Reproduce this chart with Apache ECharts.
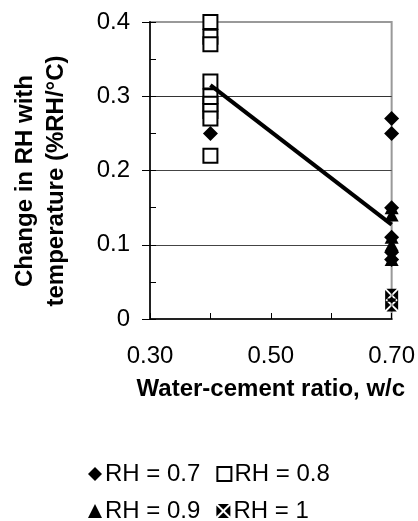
<!DOCTYPE html>
<html>
<head>
<meta charset="utf-8">
<script src="https://cdn.jsdelivr.net/npm/echarts@6/dist/echarts.min.js"></script>
<style>
html,body{margin:0;padding:0;background:#fff;}
#chart{width:418px;height:521px;}
</style>
</head>
<body>
<div id="chart"></div>
<script>
// Data
const rh07 = [[0.40, 0.25], [0.70, 0.27], [0.70, 0.25], [0.70, 0.15], [0.70, 0.11], [0.70, 0.09], [0.70, 0.08]];
const rh08 = [[0.40, 0.40], [0.40, 0.38], [0.40, 0.37], [0.40, 0.32], [0.40, 0.30], [0.40, 0.29], [0.40, 0.28], [0.40, 0.27], [0.40, 0.22]];
const rh09 = [[0.70, 0.15], [0.70, 0.14], [0.70, 0.11], [0.70, 0.10], [0.70, 0.08]];
const rh10 = [[0.70, 0.032], [0.70, 0.019]];
const trend = [[0.40, 0.315], [0.70, 0.127]];
const seriesNames = ['RH = 0.7', 'RH = 0.8', 'RH = 0.9', 'RH = 1'];
const xTickLabels = {0.3: '0.30', 0.5: '0.50', 0.7: '0.70'};
const yTickLabels = {0: '0', 0.1: '0.1', 0.2: '0.2', 0.3: '0.3', 0.4: '0.4'};

const FONT = "'Liberation Sans', Arial, sans-serif";
const crossPath = 'path://M1,0L9,0L5,4Z M1,10L9,10L5,6Z M0,1L0,9L4,5Z M10,1L10,9L6,5Z';

function xLab(v) {
  const k = Math.round(v * 10) / 10;
  return xTickLabels[k] !== undefined ? xTickLabels[k] : '';
}
function yLab(v) {
  const k = Math.round(v * 10) / 10;
  return yTickLabels[k] !== undefined ? yTickLabels[k] : '';
}

const chart = echarts.init(document.getElementById('chart'), null, {renderer: 'canvas'});
chart.setOption({
  animation: false,
  backgroundColor: '#fff',
  textStyle: {fontFamily: FONT},
  grid: {left: 150, right: 25, top: 22, bottom: 202, show: true, borderColor: '#999', borderWidth: 2, backgroundColor: 'transparent'},
  xAxis: {
    type: 'value', min: 0.3, max: 0.7, interval: 0.1,
    name: 'Water-cement ratio, w/c', nameLocation: 'middle', nameGap: 58,
    nameTextStyle: {fontFamily: FONT, fontSize: 24, fontWeight: 'bold', color: '#000'},
    axisLine: {show: true, onZero: false, lineStyle: {color: '#222', width: 2}},
    axisTick: {show: true, inside: true, length: 6, lineStyle: {color: '#000'}},
    axisLabel: {formatter: xLab, fontFamily: FONT, fontSize: 24, color: '#000', margin: 25},
    splitLine: {show: false}
  },
  yAxis: [{
    type: 'value', min: 0, max: 0.4, interval: 0.1,
    axisLine: {show: true, onZero: false, lineStyle: {color: '#222', width: 2}},
    axisTick: {show: true, inside: false, length: 8, lineStyle: {color: '#000'}},
    axisLabel: {formatter: yLab, fontFamily: FONT, fontSize: 24, color: '#000', margin: 20},
    splitLine: {show: true, lineStyle: {color: ['#000', '#444', '#444', '#333', '#999'], width: 1}}
  }, {
    type: 'value', min: 0, max: 0.4, interval: 0.05, position: 'left', offset: 0,
    axisLine: {show: false},
    axisTick: {show: true, inside: true, length: 6, lineStyle: {color: '#000'}},
    axisLabel: {show: false},
    splitLine: {show: false}
  }],
  graphic: [{
    type: 'text', x: 41, y: 181, rotation: Math.PI / 2,
    style: {
      text: 'Change in RH with\ntemperature (%RH/°C)',
      font: "bold 24px 'Liberation Sans', Arial, sans-serif",
      fill: '#000', textAlign: 'center', textVerticalAlign: 'middle', lineHeight: 31
    }
  }],
  legend: [{
    left: 83, top: 457, itemGap: 16, itemWidth: 14, itemHeight: 14,
    data: [seriesNames[0], seriesNames[1]],
    textStyle: {fontFamily: FONT, fontSize: 24, color: '#000', padding: [0, 0, 0, -2]}
  }, {
    left: 83, top: 494, itemGap: 16, itemWidth: 14, itemHeight: 14,
    data: [seriesNames[2], seriesNames[3]],
    textStyle: {fontFamily: FONT, fontSize: 24, color: '#000', padding: [0, 0, 0, -2]}
  }],
  series: [{
    name: seriesNames[1], type: 'scatter', data: rh08, symbol: 'rect', symbolSize: 14,
    itemStyle: {color: '#fff', borderColor: '#000', borderWidth: 2, opacity: 1}, z: 2
  }, {
    name: seriesNames[0], type: 'scatter', data: rh07, symbol: 'diamond', symbolSize: [15, 15],
    itemStyle: {color: '#000', opacity: 1}, z: 3
  }, {
    name: seriesNames[2], type: 'scatter', data: rh09, symbol: 'triangle', symbolSize: [14, 13],
    itemStyle: {color: '#000', opacity: 1}, z: 3
  }, {
    name: seriesNames[3], type: 'scatter', data: rh10, symbol: crossPath, symbolSize: 13,
    itemStyle: {color: '#000', opacity: 1}, z: 4
  }, {
    name: 'trend', type: 'line', data: trend, symbol: 'none', silent: true,
    lineStyle: {color: '#000', width: 4}, z: 5
  }]
});
</script>
</body>
</html>
